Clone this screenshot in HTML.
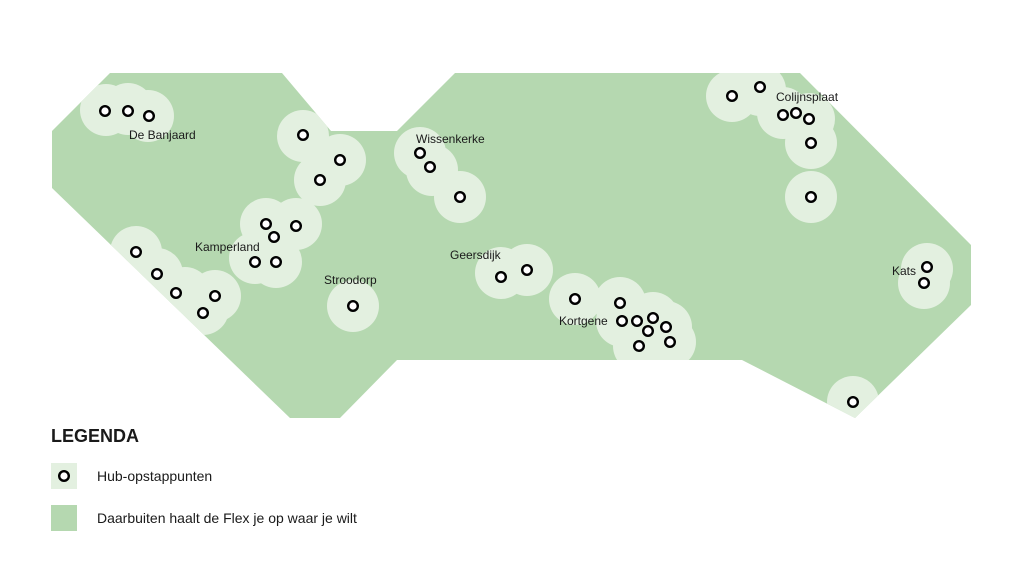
<!DOCTYPE html>
<html><head><style>body{margin:0;background:#fff}svg{display:block}text{font-family:"Liberation Sans",sans-serif;fill:#1a1a1a}</style></head><body>
<svg width="1024" height="576" viewBox="0 0 1024 576" xmlns="http://www.w3.org/2000/svg">
<defs><clipPath id="c"><path id="p" d="M110,73 L282,73 L331,131 L397,131 L455,73 L800,73 L971,245 L971,305 L855,418 L742,360 L397,360 L340,418 L290,418 L52,188 L52,131 Z"/></clipPath></defs>
<path d="M110,73 L282,73 L331,131 L397,131 L455,73 L800,73 L971,245 L971,305 L855,418 L742,360 L397,360 L340,418 L290,418 L52,188 L52,131 Z" fill="#b5d8b0"/>
<g clip-path="url(#c)" fill="#e3f0e0">
<circle cx="106" cy="110" r="26"/><circle cx="128" cy="109" r="26"/><circle cx="148" cy="116" r="26"/>
<circle cx="303" cy="136" r="26"/><circle cx="340" cy="160" r="26"/><circle cx="320" cy="180" r="26"/>
<circle cx="266" cy="224" r="26"/><circle cx="296" cy="224" r="26"/><circle cx="255" cy="258" r="26"/><circle cx="276" cy="262" r="26"/>
<circle cx="136" cy="252" r="26"/><circle cx="157" cy="274" r="26"/><circle cx="185" cy="293" r="26"/><circle cx="215" cy="296" r="26"/><circle cx="203" cy="309" r="26"/>
<circle cx="353" cy="306" r="26"/>
<circle cx="420" cy="153" r="26"/><circle cx="432" cy="170" r="26"/><circle cx="460" cy="197" r="26"/>
<circle cx="501" cy="273" r="26"/><circle cx="527" cy="270" r="26"/>
<circle cx="575" cy="299" r="26"/><circle cx="620" cy="303" r="26"/><circle cx="622" cy="321" r="26"/><circle cx="653" cy="318" r="26"/><circle cx="666" cy="327" r="26"/><circle cx="670" cy="342" r="26"/><circle cx="639" cy="346" r="26"/>
<circle cx="732" cy="96" r="26"/><circle cx="760" cy="90" r="26"/><circle cx="783" cy="113" r="26"/><circle cx="809" cy="119" r="26"/><circle cx="811" cy="143" r="26"/><circle cx="811" cy="197" r="26"/>
<circle cx="927" cy="269" r="26"/><circle cx="924" cy="283" r="26"/>
<circle cx="853" cy="402" r="26"/>
</g>
<g fill="#fff" stroke="#000" stroke-width="2.4">
<circle cx="105" cy="111" r="4.8"/><circle cx="128" cy="111" r="4.8"/><circle cx="149" cy="116" r="4.8"/>
<circle cx="303" cy="135" r="4.8"/><circle cx="340" cy="160" r="4.8"/><circle cx="320" cy="180" r="4.8"/>
<circle cx="266" cy="224" r="4.8"/><circle cx="274" cy="237" r="4.8"/><circle cx="296" cy="226" r="4.8"/><circle cx="255" cy="262" r="4.8"/><circle cx="276" cy="262" r="4.8"/>
<circle cx="136" cy="252" r="4.8"/><circle cx="157" cy="274" r="4.8"/><circle cx="176" cy="293" r="4.8"/><circle cx="215" cy="296" r="4.8"/><circle cx="203" cy="313" r="4.8"/>
<circle cx="353" cy="306" r="4.8"/>
<circle cx="420" cy="153" r="4.8"/><circle cx="430" cy="167" r="4.8"/><circle cx="460" cy="197" r="4.8"/>
<circle cx="501" cy="277" r="4.8"/><circle cx="527" cy="270" r="4.8"/>
<circle cx="575" cy="299" r="4.8"/><circle cx="620" cy="303" r="4.8"/><circle cx="622" cy="321" r="4.8"/><circle cx="637" cy="321" r="4.8"/><circle cx="653" cy="318" r="4.8"/><circle cx="648" cy="331" r="4.8"/><circle cx="666" cy="327" r="4.8"/><circle cx="670" cy="342" r="4.8"/><circle cx="639" cy="346" r="4.8"/>
<circle cx="732" cy="96" r="4.8"/><circle cx="760" cy="87" r="4.8"/><circle cx="783" cy="115" r="4.8"/><circle cx="796" cy="113" r="4.8"/><circle cx="809" cy="119" r="4.8"/><circle cx="811" cy="143" r="4.8"/><circle cx="811" cy="197" r="4.8"/>
<circle cx="927" cy="267" r="4.8"/><circle cx="924" cy="283" r="4.8"/>
<circle cx="853" cy="402" r="4.8"/>
</g>
<g font-size="12">
<text x="129" y="139">De Banjaard</text>
<text x="195" y="251">Kamperland</text>
<text x="324" y="284">Stroodorp</text>
<text x="416" y="143">Wissenkerke</text>
<text x="450" y="259">Geersdijk</text>
<text x="559" y="325">Kortgene</text>
<text x="776" y="101">Colijnsplaat</text>
<text x="892" y="275">Kats</text>
</g>
<text x="51" y="442" font-size="18" font-weight="bold" fill="#000">LEGENDA</text>
<rect x="51" y="463" width="26" height="26" fill="#e3f0e0"/>
<circle cx="64" cy="476" r="4.8" fill="#fff" stroke="#000" stroke-width="2.4"/>
<text x="97" y="481" font-size="14">Hub-opstappunten</text>
<rect x="51" y="505" width="26" height="26" fill="#b5d8b0"/>
<text x="97" y="523" font-size="14">Daarbuiten haalt de Flex je op waar je wilt</text>
</svg>
</body></html>
